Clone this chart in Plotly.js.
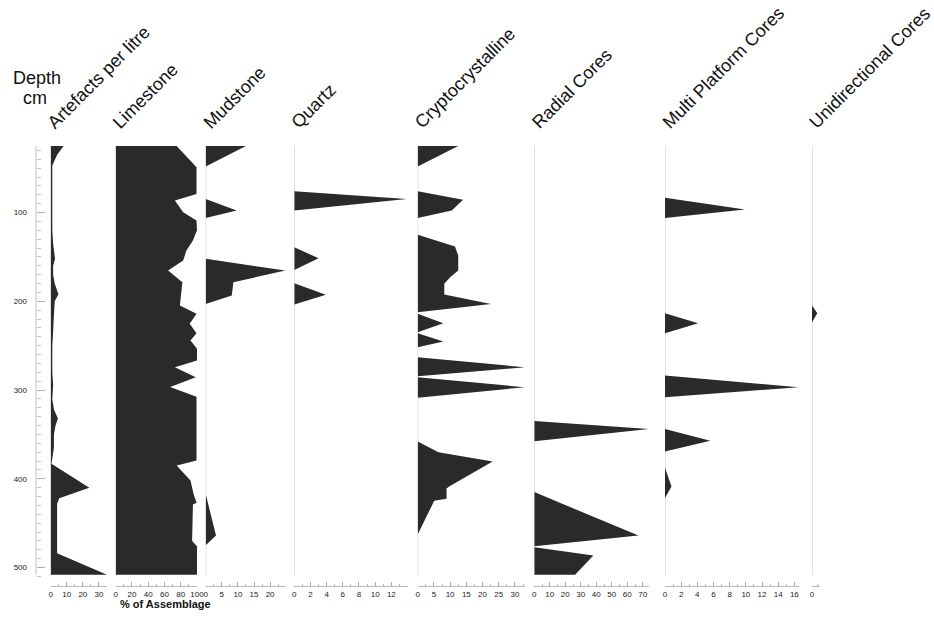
<!DOCTYPE html>
<html>
<head>
<meta charset="utf-8">
<script src="https://cdn.plot.ly/plotly-3.0.1.min.js"></script>
<style>
html,body{margin:0;padding:0;background:#fff;}
#chart{width:934px;height:625px;}
</style>
</head>
<body>
<div id="chart"></div>
<script>
// ---------------- DATA ----------------
const panelTitles = ['Artefacts per litre','Limestone','Mudstone','Quartz','Cryptocrystalline','Radial Cores','Multi Platform Cores','Unidirectional Cores'];

const artDepth = [25, 35, 47, 60, 75, 90, 105, 120, 135, 146, 152, 160, 170, 180, 192, 200, 210, 222, 235, 250, 265, 280, 295, 310, 322, 332, 340, 350, 365, 383, 410, 422, 428, 440, 460, 475, 484, 508];
const artVals  = [8, 4, 1, 1, 1.3, 1, 1, 1, 1.5, 2.5, 2.7, 1.5, 1.5, 2.5, 4.8, 2.5, 2, 1.8, 1.5, 1, 1, 1, 1.5, 1, 2, 4.5, 3, 2, 2, 0.5, 24, 5.3, 4, 4, 4, 4, 4, 35];

const limeDepth = [25, 49, 79, 86.5, 99.6, 109, 120, 131.5, 142.8, 154, 165.4, 178.5, 204.8, 214, 225.4, 236, 244.2, 253.6, 266.8, 274.3, 285.6, 296.5, 307.5, 379.4, 385, 402, 418, 427, 429, 470, 476, 508];
const limeVals  = [75, 99.4, 99.4, 72.8, 83, 99.4, 100, 95, 87, 83, 64.5, 82, 79, 99.4, 91, 99.4, 92, 100, 100, 72.8, 98.5, 67, 99.4, 99.4, 75, 92, 96, 99.5, 95, 94, 100, 100];

const mudDepth = [25, 48, 84.6, 97.7, 106, 152, 165.4, 178.5, 193.5, 203, 417, 464, 475];
const mudVals  = [12.5, 0, 0, 9.6, 0, 0, 24.7, 8.6, 8.1, 0, 0, 3.2, 0];

const qtzDepth = [76, 84.6, 97.7, 139, 151.5, 164.6, 179.6, 192.7, 203.7];
const qtzVals  = [0, 13.9, 0, 0, 3, 0, 0, 3.9, 0];

const cryDepth = [25, 48, 76, 85.7, 97.7, 106, 125, 138.3, 148.5, 165.4, 172.9, 180.3, 192.4, 202.9, 212.3, 214, 224.7, 234.8, 236, 245.4, 251.8, 263, 274.3, 284.5, 285.5, 296.8, 308.8, 358, 370, 380.6, 408.7, 411, 422.6, 424.7, 462.8];
const cryVals  = [12.5, 0, 0, 14, 10.5, 0, 0, 11.5, 12.5, 12.5, 10, 8.2, 8.2, 22.6, 0, 0, 7.9, 0, 0, 7.9, 0, 0, 33, 0, 0, 33, 0, 0, 6.4, 23.1, 9.7, 8.9, 8.9, 5.1, 0];

const radDepth = [335, 343.8, 357.7, 415, 464, 476, 477, 486.5, 508];
const radVals  = [0, 74, 0, 0, 67.2, 0, 0, 38.1, 26.3];

const mpDepth = [83.4, 96.6, 106, 213.5, 224.7, 236, 283.7, 296.8, 308, 343.8, 357, 369.3, 387.6, 408.7, 421.5];
const mpVals  = [0, 9.9, 0, 0, 4.1, 0, 0, 16.5, 0, 0, 5.6, 0, 0, 0.8, 0];

const uniDepth = [204.8, 213.5, 223.6];
const uniVals  = [0, 1, 0];

// tick labels
const artTicks  = [0, 10, 20, 30];
const limeTicks = [0, 20, 40, 60, 80, 100];
const mudTicks  = [0, 5, 10, 15, 20];
const qtzTicks  = [0, 2, 4, 6, 8, 10, 12];
const cryTicks  = [0, 5, 10, 15, 20, 25, 30];
const radTicks  = [0, 10, 20, 30, 40, 50, 60, 70];
const mpTicks   = [0, 2, 4, 6, 8, 10, 12, 14, 16];
const uniTicks  = [0];
const depthTicks = [100, 200, 300, 400, 500];

// ---------------- LAYOUT ----------------
const W = 934, H = 625, T = 146, B = 39;
const plotH = H - T - B;
const px2x = p => p / W;
const py2y = p => (H - B - p) / plotH;
const FILL = '#2a2a2a';
const FONT = 'Liberation Sans, Arial, sans-serif';
const TOPD = 25, BOTD = 508, YBOT = 520.8;

const panels = [
  {depth: artDepth,  vals: artVals,  ticks: artTicks,  x0: 50.7,  x1: 107,   range: [0, 35],    minor: 5},
  {depth: limeDepth, vals: limeVals, ticks: limeTicks, x0: 115.7, x1: 197.4, range: [0, 100.5], minor: 10},
  {depth: mudDepth,  vals: mudVals,  ticks: mudTicks,  x0: 205.7, x1: 286.2, range: [0, 25],    minor: 2.5},
  {depth: qtzDepth,  vals: qtzVals,  ticks: qtzTicks,  x0: 294.3, x1: 407.5, range: [0, 14],    minor: 1},
  {depth: cryDepth,  vals: cryVals,  ticks: cryTicks,  x0: 417.7, x1: 524.7, range: [0, 33],    minor: 2.5},
  {depth: radDepth,  vals: radVals,  ticks: radTicks,  x0: 534.3, x1: 649,   range: [0, 74],    minor: 5},
  {depth: mpDepth,   vals: mpVals,   ticks: mpTicks,   x0: 665,   x1: 799.2, range: [0, 16.6],  minor: 1},
  {depth: uniDepth,  vals: uniVals,  ticks: uniTicks,  x0: 812,   x1: 820,   range: [0, 1.5],   minor: 1}
];

const traces = [];
const shapes = [];
const annotations = [];
const layout = {
  width: W, height: H,
  margin: {l: 0, r: 0, t: T, b: B, pad: 0},
  paper_bgcolor: '#fff', plot_bgcolor: '#fff',
  showlegend: false,
  font: {family: FONT, color: '#111'},
  yaxis: {
    range: [YBOT, TOPD], anchor: 'free', position: px2x(36), side: 'left',
    showline: false, showgrid: false, zeroline: false,
    tickmode: 'array', tickvals: depthTicks,
    ticks: 'inside', ticklen: 8, tickcolor: '#b0b0b0', tickwidth: 1,
    minor: {dtick: 10, tick0: 0, ticks: 'inside', ticklen: 4, tickcolor: '#c4c4c4', tickwidth: 1},
    tickfont: {size: 8, color: '#222', family: FONT},
    ticklabelstandoff: 9, fixedrange: true
  }
};

panels.forEach((p, i) => {
  const ax = i === 0 ? 'x' : 'x' + (i + 1);
  const axKey = i === 0 ? 'xaxis' : 'xaxis' + (i + 1);
  traces.push({
    type: 'scatter', x: p.vals, y: p.depth, xaxis: ax, yaxis: 'y',
    mode: 'lines', line: {width: 0, color: FILL},
    fill: 'tozerox', fillcolor: FILL, hoverinfo: 'skip', showlegend: false
  });
  layout[axKey] = {
    domain: [px2x(p.x0), px2x(p.x1)], range: p.range, anchor: 'y',
    showline: true, linecolor: '#b8b8b8', linewidth: 1,
    tickmode: 'array', tickvals: p.ticks,
    ticks: 'inside', ticklen: 4, tickcolor: '#a8a8a8', tickwidth: 1,
    minor: {dtick: p.minor, tick0: 0, ticks: 'inside', ticklen: 2, tickcolor: '#b8b8b8', tickwidth: 1},
    showgrid: false, zeroline: false,
    tickfont: {size: 8, color: '#222', family: FONT},
    fixedrange: true
  };
  shapes.push({type: 'line', xref: ax, yref: 'y', x0: 0, x1: 0, y0: TOPD, y1: BOTD,
               line: {color: '#c8c8c8', width: 1}, layer: 'below'});
  annotations.push({
    text: panelTitles[i], xref: 'paper', yref: 'paper',
    x: px2x(p.x0 - 8), y: py2y(134), xanchor: 'left', yanchor: 'bottom',
    textangle: -45, showarrow: false, borderpad: 0,
    font: {size: 18, color: '#111', family: FONT}
  });
});

// depth axis line
shapes.push({type: 'line', xref: 'paper', yref: 'y', x0: px2x(36), x1: px2x(36), y0: TOPD, y1: BOTD,
             line: {color: '#c0c0c0', width: 1}, layer: 'below'});

annotations.push({text: 'Depth', xref: 'paper', yref: 'paper', x: px2x(37), y: py2y(78),
                  xanchor: 'center', yanchor: 'middle', showarrow: false, borderpad: 0,
                  font: {size: 18, color: '#111', family: FONT}});
annotations.push({text: 'cm', xref: 'paper', yref: 'paper', x: px2x(35), y: py2y(98),
                  xanchor: 'center', yanchor: 'middle', showarrow: false, borderpad: 0,
                  font: {size: 18, color: '#111', family: FONT}});
annotations.push({text: '<b>% of Assemblage</b>', xref: 'paper', yref: 'paper', x: px2x(165.5), y: py2y(604),
                  xanchor: 'center', yanchor: 'middle', showarrow: false, borderpad: 0,
                  font: {size: 11, color: '#111', family: FONT}});

layout.shapes = shapes;
layout.annotations = annotations;

Plotly.newPlot('chart', traces, layout, {displayModeBar: false, staticPlot: true});
</script>
</body>
</html>
